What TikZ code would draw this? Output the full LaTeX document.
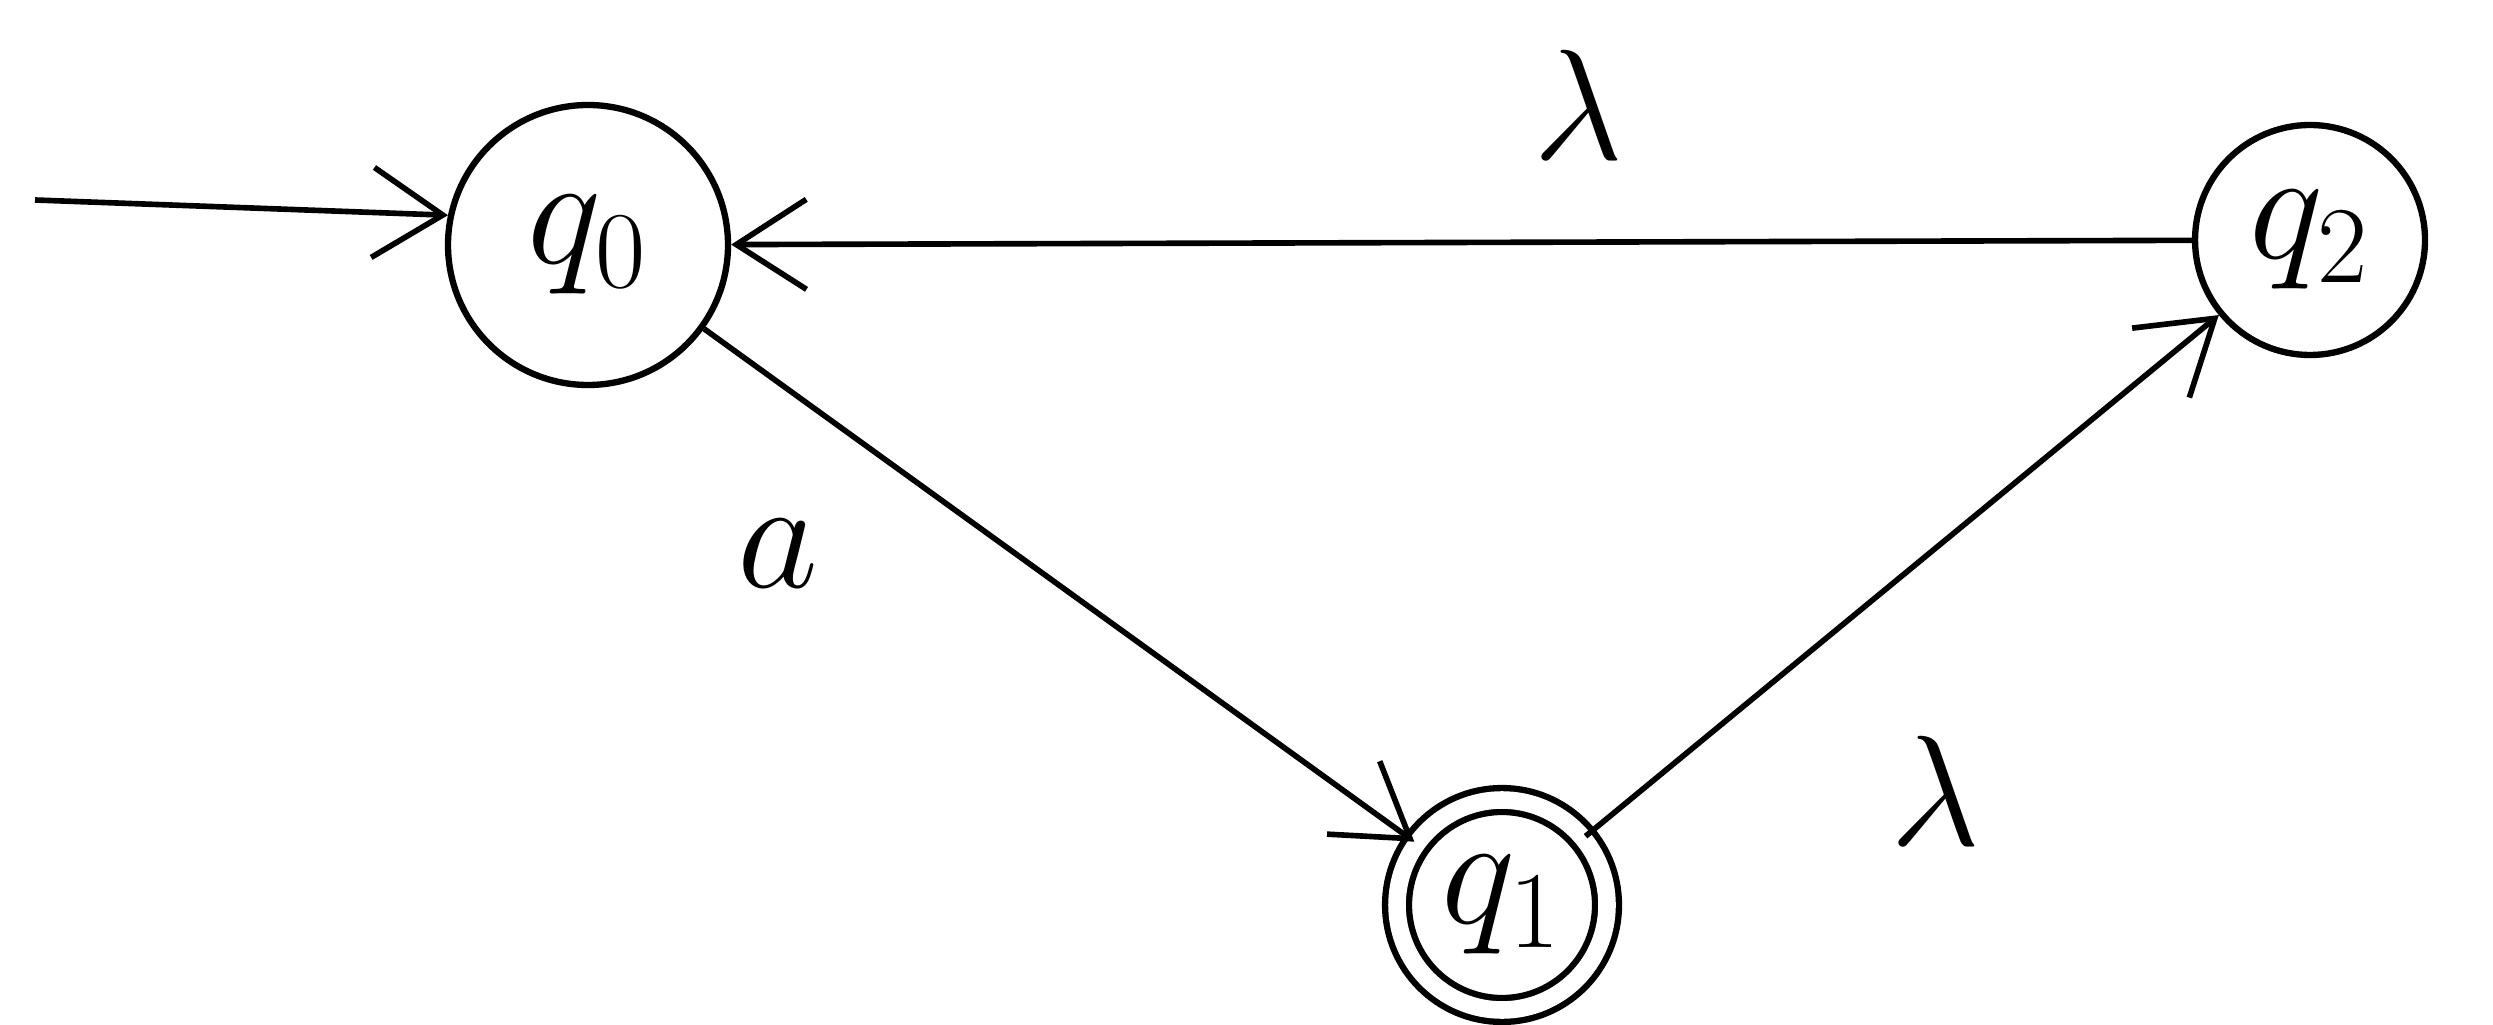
\documentclass[tikz,border=0pt]{standalone}
\usetikzlibrary{arrows.meta}
\newcommand{\bigtxt}[1]{\scalebox{1.8}{\fontsize{24}{28}\selectfont$#1$}}
\begin{document}
\begin{tikzpicture}[x=0.1mm,y=-0.1mm,
  state/.style={circle,draw,line width=1.8pt,minimum size=26mm,inner sep=0pt},
  accst/.style={state,double,double distance=5pt,minimum size=21mm},
  trans/.style={line width=1.6pt,-{Straight Barb[length=7mm,width=9mm,line width=1.6pt]}},
  lbl/.style={inner sep=0pt}]
\useasboundingbox (0,0) rectangle (2493,1025);
\node[state,minimum size=28mm] (q0) at (588,245) {\bigtxt{q_0}};
\node[state,minimum size=23mm] (q2) at (2310,240) {\bigtxt{q_2}};
\node[accst] (q1) at (1502,905) {\bigtxt{q_1}};
\coordinate (start) at (35,200);
\draw[trans] (start) -- (q0.168);
\draw[trans] (q0) -- node[lbl,pos=0.25,below left=6mm] {\bigtxt{a}} (q1);
\draw[trans] (q1) -- node[lbl,pos=0.35,below right=8mm] {\bigtxt{\lambda}} (q2);
\draw[trans] (q2) -- node[lbl,pos=0.42,above=8mm] {\bigtxt{\lambda}} (q0);
\end{tikzpicture}
\end{document}
